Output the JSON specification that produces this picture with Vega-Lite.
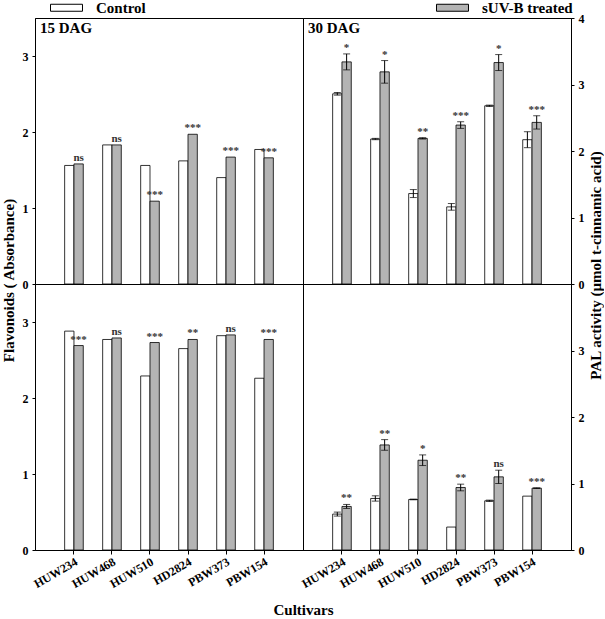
{
  "$schema": "https://vega.github.io/schema/vega-lite/v6.json",
  "padding": {"left": 0, "top": 0, "right": 0, "bottom": 0},
  "datasets": {
    "d": [
      {"panel": "TL", "cultivar": "HUW234", "treatment": "Control", "value": 1.56},
      {"panel": "TL", "cultivar": "HUW234", "treatment": "sUV-B treated", "value": 1.58, "sig": "ns"},
      {"panel": "TL", "cultivar": "HUW468", "treatment": "Control", "value": 1.83},
      {"panel": "TL", "cultivar": "HUW468", "treatment": "sUV-B treated", "value": 1.83, "sig": "ns"},
      {"panel": "TL", "cultivar": "HUW510", "treatment": "Control", "value": 1.56},
      {"panel": "TL", "cultivar": "HUW510", "treatment": "sUV-B treated", "value": 1.09, "sig": "***"},
      {"panel": "TL", "cultivar": "HD2824", "treatment": "Control", "value": 1.62},
      {"panel": "TL", "cultivar": "HD2824", "treatment": "sUV-B treated", "value": 1.97, "sig": "***"},
      {"panel": "TL", "cultivar": "PBW373", "treatment": "Control", "value": 1.40},
      {"panel": "TL", "cultivar": "PBW373", "treatment": "sUV-B treated", "value": 1.67, "sig": "***"},
      {"panel": "TL", "cultivar": "PBW154", "treatment": "Control", "value": 1.77},
      {"panel": "TL", "cultivar": "PBW154", "treatment": "sUV-B treated", "value": 1.66, "sig": "***"},

      {"panel": "TR", "cultivar": "HUW234", "treatment": "Control", "value": 2.86, "lo": 2.84, "hi": 2.88},
      {"panel": "TR", "cultivar": "HUW234", "treatment": "sUV-B treated", "value": 3.34, "lo": 3.22, "hi": 3.46, "sig": "*"},
      {"panel": "TR", "cultivar": "HUW468", "treatment": "Control", "value": 2.18, "lo": 2.17, "hi": 2.19},
      {"panel": "TR", "cultivar": "HUW468", "treatment": "sUV-B treated", "value": 3.19, "lo": 3.02, "hi": 3.36, "sig": "*"},
      {"panel": "TR", "cultivar": "HUW510", "treatment": "Control", "value": 1.36, "lo": 1.30, "hi": 1.42},
      {"panel": "TR", "cultivar": "HUW510", "treatment": "sUV-B treated", "value": 2.19, "lo": 2.18, "hi": 2.20, "sig": "**"},
      {"panel": "TR", "cultivar": "HD2824", "treatment": "Control", "value": 1.16, "lo": 1.11, "hi": 1.21},
      {"panel": "TR", "cultivar": "HD2824", "treatment": "sUV-B treated", "value": 2.39, "lo": 2.34, "hi": 2.44, "sig": "***"},
      {"panel": "TR", "cultivar": "PBW373", "treatment": "Control", "value": 2.68, "lo": 2.67, "hi": 2.69},
      {"panel": "TR", "cultivar": "PBW373", "treatment": "sUV-B treated", "value": 3.33, "lo": 3.21, "hi": 3.45, "sig": "*"},
      {"panel": "TR", "cultivar": "PBW154", "treatment": "Control", "value": 2.17, "lo": 2.05, "hi": 2.29},
      {"panel": "TR", "cultivar": "PBW154", "treatment": "sUV-B treated", "value": 2.43, "lo": 2.33, "hi": 2.53, "sig": "***"},

      {"panel": "BL", "cultivar": "HUW234", "treatment": "Control", "value": 2.88},
      {"panel": "BL", "cultivar": "HUW234", "treatment": "sUV-B treated", "value": 2.69, "sig": "***"},
      {"panel": "BL", "cultivar": "HUW468", "treatment": "Control", "value": 2.77},
      {"panel": "BL", "cultivar": "HUW468", "treatment": "sUV-B treated", "value": 2.79, "sig": "ns"},
      {"panel": "BL", "cultivar": "HUW510", "treatment": "Control", "value": 2.29},
      {"panel": "BL", "cultivar": "HUW510", "treatment": "sUV-B treated", "value": 2.73, "sig": "***"},
      {"panel": "BL", "cultivar": "HD2824", "treatment": "Control", "value": 2.65},
      {"panel": "BL", "cultivar": "HD2824", "treatment": "sUV-B treated", "value": 2.77, "sig": "**"},
      {"panel": "BL", "cultivar": "PBW373", "treatment": "Control", "value": 2.82},
      {"panel": "BL", "cultivar": "PBW373", "treatment": "sUV-B treated", "value": 2.83, "sig": "ns"},
      {"panel": "BL", "cultivar": "PBW154", "treatment": "Control", "value": 2.26},
      {"panel": "BL", "cultivar": "PBW154", "treatment": "sUV-B treated", "value": 2.77, "sig": "***"},

      {"panel": "BR", "cultivar": "HUW234", "treatment": "Control", "value": 0.54, "lo": 0.51, "hi": 0.57},
      {"panel": "BR", "cultivar": "HUW234", "treatment": "sUV-B treated", "value": 0.655, "lo": 0.625, "hi": 0.685, "sig": "**"},
      {"panel": "BR", "cultivar": "HUW468", "treatment": "Control", "value": 0.775, "lo": 0.735, "hi": 0.815},
      {"panel": "BR", "cultivar": "HUW468", "treatment": "sUV-B treated", "value": 1.58, "lo": 1.50, "hi": 1.66, "sig": "**"},
      {"panel": "BR", "cultivar": "HUW510", "treatment": "Control", "value": 0.76, "lo": 0.755, "hi": 0.765},
      {"panel": "BR", "cultivar": "HUW510", "treatment": "sUV-B treated", "value": 1.35, "lo": 1.27, "hi": 1.43, "sig": "*"},
      {"panel": "BR", "cultivar": "HD2824", "treatment": "Control", "value": 0.345},
      {"panel": "BR", "cultivar": "HD2824", "treatment": "sUV-B treated", "value": 0.94, "lo": 0.89, "hi": 0.99, "sig": "**"},
      {"panel": "BR", "cultivar": "PBW373", "treatment": "Control", "value": 0.74, "lo": 0.73, "hi": 0.75},
      {"panel": "BR", "cultivar": "PBW373", "treatment": "sUV-B treated", "value": 1.10, "lo": 1.00, "hi": 1.20, "sig": "ns"},
      {"panel": "BR", "cultivar": "PBW154", "treatment": "Control", "value": 0.81},
      {"panel": "BR", "cultivar": "PBW154", "treatment": "sUV-B treated", "value": 0.93, "lo": 0.925, "hi": 0.935, "sig": "***"}
    ],
    "labels": [
      {"panel": "TL", "label": "15 DAG"},
      {"panel": "TR", "label": "30 DAG"}
    ]
  },
  "data": {"name": "d"},
  "columns": 2,
  "spacing": 0,
  "bounds": "flush",
  "resolve": {"scale": {"y": "independent", "fill": "shared"}, "legend": {"fill": "shared"}},
  "concat": [
    {
      "width": 268, "height": 266,
      "transform": [{"filter": "datum.panel === 'TL'"}],
      "layer": [
        {
          "mark": {"type": "bar", "stroke": "black", "strokeWidth": 0.8},
          "encoding": {
            "x": {"field": "cultivar", "type": "nominal", "scale": {"domain": ["HUW234", "HUW468", "HUW510", "HD2824", "PBW373", "PBW154"], "paddingInner": 0.51, "paddingOuter": 0.78}, "axis": null},
            "xOffset": {"field": "treatment", "type": "nominal", "scale": {"domain": ["Control", "sUV-B treated"], "paddingInner": 0, "paddingOuter": 0}},
            "y": {"field": "value", "type": "quantitative", "scale": {"domain": [0, 3.5], "nice": false}, "axis": {"orient": "left", "values": [0, 1, 2, 3], "format": "d", "title": "Flavonoids ( Absorbance)", "titleY": 262, "titlePadding": 6}},
            "fill": {"field": "treatment", "type": "nominal", "scale": {"domain": ["Control", "sUV-B treated"], "range": ["white", "#b4b4b4"]},
              "legend": {"orient": "none", "legendX": 24, "legendY": -18, "direction": "horizontal", "title": null, "symbolType": "M-4.57,-1H4.57V1H-4.57Z", "symbolSize": 49, "symbolStrokeColor": "black", "symbolStrokeWidth": 1, "labelFont": "Liberation Serif", "labelFontSize": 15, "labelFontWeight": "bold", "labelColor": "black", "labelOffset": 22, "columnPadding": 288}}
          }
        },
        {
          "transform": [{"filter": "datum.sig"}],
          "mark": {"type": "text", "baseline": "bottom", "dy": -1, "fontWeight": "bold", "font": "Liberation Serif", "color": "#333333"},
          "encoding": {
            "x": {"field": "cultivar", "type": "nominal", "axis": null},
            "xOffset": {"field": "treatment", "type": "nominal"},
            "y": {"field": "value", "type": "quantitative"},
            "text": {"field": "sig"},
            "fontSize": {"condition": {"test": "datum.sig === 'ns'", "value": 15}, "value": 16}
          }
        },
        {
          "data": {"name": "labels"},
          "transform": [{"filter": "datum.panel === 'TL'"}],
          "mark": {"type": "text", "align": "left", "baseline": "alphabetic", "fontSize": 15, "fontWeight": "bold", "font": "Liberation Serif", "dx": -34, "color": "black"},
          "encoding": {
            "x": {"datum": "HUW234", "type": "nominal", "axis": null},
            "y": {"datum": 3.3, "type": "quantitative"},
            "text": {"field": "label"}
          }
        }
      ]
    },
    {
      "width": 268, "height": 266,
      "transform": [{"filter": "datum.panel === 'TR'"}],
      "layer": [
        {
          "mark": {"type": "bar", "stroke": "black", "strokeWidth": 0.8},
          "encoding": {
            "x": {"field": "cultivar", "type": "nominal", "scale": {"domain": ["HUW234", "HUW468", "HUW510", "HD2824", "PBW373", "PBW154"], "paddingInner": 0.51, "paddingOuter": 0.78}, "axis": null},
            "xOffset": {"field": "treatment", "type": "nominal", "scale": {"domain": ["Control", "sUV-B treated"], "paddingInner": 0, "paddingOuter": 0}},
            "y": {"field": "value", "type": "quantitative", "scale": {"domain": [0, 4], "nice": false}, "axis": {"orient": "right", "values": [0, 1, 2, 3, 4], "format": "d", "title": "PAL activity (µmol t-cinnamic acid)", "titleY": 247, "titleAngle": 270, "titleBaseline": "top", "titlePadding": 4}},
            "fill": {"field": "treatment", "type": "nominal", "scale": {"domain": ["Control", "sUV-B treated"], "range": ["white", "#b4b4b4"]},
              "legend": {"orient": "none", "legendX": 24, "legendY": -18, "direction": "horizontal", "title": null, "symbolType": "M-4.57,-1H4.57V1H-4.57Z", "symbolSize": 49, "symbolStrokeColor": "black", "symbolStrokeWidth": 1, "labelFont": "Liberation Serif", "labelFontSize": 15, "labelFontWeight": "bold", "labelColor": "black", "labelOffset": 22, "columnPadding": 288}}
          }
        },
        {
          "mark": {"type": "rule", "color": "black", "strokeWidth": 1},
          "encoding": {
            "x": {"field": "cultivar", "type": "nominal", "axis": null},
            "xOffset": {"field": "treatment", "type": "nominal"},
            "y": {"field": "lo", "type": "quantitative"},
            "y2": {"field": "hi"}
          }
        },
        {
          "mark": {"type": "tick", "color": "black", "thickness": 1, "size": 7},
          "encoding": {
            "x": {"field": "cultivar", "type": "nominal", "axis": null},
            "xOffset": {"field": "treatment", "type": "nominal"},
            "y": {"field": "lo", "type": "quantitative"}
          }
        },
        {
          "mark": {"type": "tick", "color": "black", "thickness": 1, "size": 7},
          "encoding": {
            "x": {"field": "cultivar", "type": "nominal", "axis": null},
            "xOffset": {"field": "treatment", "type": "nominal"},
            "y": {"field": "hi", "type": "quantitative"}
          }
        },
        {
          "transform": [{"filter": "datum.sig"}],
          "mark": {"type": "text", "baseline": "bottom", "dy": -1, "fontWeight": "bold", "font": "Liberation Serif", "color": "#333333"},
          "encoding": {
            "x": {"field": "cultivar", "type": "nominal", "axis": null},
            "xOffset": {"field": "treatment", "type": "nominal"},
            "y": {"field": "hi", "type": "quantitative"},
            "text": {"field": "sig"},
            "fontSize": {"condition": {"test": "datum.sig === 'ns'", "value": 15}, "value": 16}
          }
        },
        {
          "data": {"name": "labels"},
          "transform": [{"filter": "datum.panel === 'TR'"}],
          "mark": {"type": "text", "align": "left", "baseline": "alphabetic", "fontSize": 15, "fontWeight": "bold", "font": "Liberation Serif", "dx": -34, "color": "black"},
          "encoding": {
            "x": {"datum": "HUW234", "type": "nominal", "axis": null},
            "y": {"datum": 3.775, "type": "quantitative"},
            "text": {"field": "label"}
          }
        }
      ]
    },
    {
      "width": 268, "height": 266,
      "transform": [{"filter": "datum.panel === 'BL'"}],
      "layer": [
        {
          "mark": {"type": "bar", "stroke": "black", "strokeWidth": 0.8},
          "encoding": {
            "x": {"field": "cultivar", "type": "nominal", "scale": {"domain": ["HUW234", "HUW468", "HUW510", "HD2824", "PBW373", "PBW154"], "paddingInner": 0.51, "paddingOuter": 0.78}, "axis": {"orient": "bottom", "labelAngle": -30, "title": "Cultivars", "titleX": 268, "titleY": 52, "titleBaseline": "top", "tickSize": 4, "labelPadding": 2}},
            "xOffset": {"field": "treatment", "type": "nominal", "scale": {"domain": ["Control", "sUV-B treated"], "paddingInner": 0, "paddingOuter": 0}},
            "y": {"field": "value", "type": "quantitative", "scale": {"domain": [0, 3.5], "nice": false}, "axis": {"orient": "left", "values": [0, 1, 2, 3], "format": "d", "title": null}},
            "fill": {"field": "treatment", "type": "nominal", "scale": {"domain": ["Control", "sUV-B treated"], "range": ["white", "#b4b4b4"]},
              "legend": {"orient": "none", "legendX": 24, "legendY": -18, "direction": "horizontal", "title": null, "symbolType": "M-4.57,-1H4.57V1H-4.57Z", "symbolSize": 49, "symbolStrokeColor": "black", "symbolStrokeWidth": 1, "labelFont": "Liberation Serif", "labelFontSize": 15, "labelFontWeight": "bold", "labelColor": "black", "labelOffset": 22, "columnPadding": 288}}
          }
        },
        {
          "transform": [{"filter": "datum.sig"}],
          "mark": {"type": "text", "baseline": "bottom", "dy": -1, "fontWeight": "bold", "font": "Liberation Serif", "color": "#333333"},
          "encoding": {
            "x": {"field": "cultivar", "type": "nominal"},
            "xOffset": {"field": "treatment", "type": "nominal"},
            "y": {"field": "value", "type": "quantitative"},
            "text": {"field": "sig"},
            "fontSize": {"condition": {"test": "datum.sig === 'ns'", "value": 15}, "value": 16}
          }
        }
      ]
    },
    {
      "width": 268, "height": 266,
      "transform": [{"filter": "datum.panel === 'BR'"}],
      "layer": [
        {
          "mark": {"type": "bar", "stroke": "black", "strokeWidth": 0.8},
          "encoding": {
            "x": {"field": "cultivar", "type": "nominal", "scale": {"domain": ["HUW234", "HUW468", "HUW510", "HD2824", "PBW373", "PBW154"], "paddingInner": 0.51, "paddingOuter": 0.78}, "axis": {"orient": "bottom", "labelAngle": -30, "title": null, "tickSize": 4, "labelPadding": 2}},
            "xOffset": {"field": "treatment", "type": "nominal", "scale": {"domain": ["Control", "sUV-B treated"], "paddingInner": 0, "paddingOuter": 0}},
            "y": {"field": "value", "type": "quantitative", "scale": {"domain": [0, 4], "nice": false}, "axis": {"orient": "right", "values": [0, 1, 2, 3], "format": "d", "title": null}},
            "fill": {"field": "treatment", "type": "nominal", "scale": {"domain": ["Control", "sUV-B treated"], "range": ["white", "#b4b4b4"]},
              "legend": {"orient": "none", "legendX": 24, "legendY": -18, "direction": "horizontal", "title": null, "symbolType": "M-4.57,-1H4.57V1H-4.57Z", "symbolSize": 49, "symbolStrokeColor": "black", "symbolStrokeWidth": 1, "labelFont": "Liberation Serif", "labelFontSize": 15, "labelFontWeight": "bold", "labelColor": "black", "labelOffset": 22, "columnPadding": 288}}
          }
        },
        {
          "mark": {"type": "rule", "color": "black", "strokeWidth": 1},
          "encoding": {
            "x": {"field": "cultivar", "type": "nominal"},
            "xOffset": {"field": "treatment", "type": "nominal"},
            "y": {"field": "lo", "type": "quantitative"},
            "y2": {"field": "hi"}
          }
        },
        {
          "mark": {"type": "tick", "color": "black", "thickness": 1, "size": 7},
          "encoding": {
            "x": {"field": "cultivar", "type": "nominal"},
            "xOffset": {"field": "treatment", "type": "nominal"},
            "y": {"field": "lo", "type": "quantitative"}
          }
        },
        {
          "mark": {"type": "tick", "color": "black", "thickness": 1, "size": 7},
          "encoding": {
            "x": {"field": "cultivar", "type": "nominal"},
            "xOffset": {"field": "treatment", "type": "nominal"},
            "y": {"field": "hi", "type": "quantitative"}
          }
        },
        {
          "transform": [{"filter": "datum.sig"}],
          "mark": {"type": "text", "baseline": "bottom", "dy": -1, "fontWeight": "bold", "font": "Liberation Serif", "color": "#333333"},
          "encoding": {
            "x": {"field": "cultivar", "type": "nominal"},
            "xOffset": {"field": "treatment", "type": "nominal"},
            "y": {"field": "hi", "type": "quantitative"},
            "text": {"field": "sig"},
            "fontSize": {"condition": {"test": "datum.sig === 'ns'", "value": 15}, "value": 16}
          }
        }
      ]
    }
  ],
  "config": {
    "view": {"stroke": "black", "strokeWidth": 1},
    "axis": {"domainColor": "black", "tickColor": "black", "labelColor": "black", "titleColor": "black", "labelFont": "Liberation Serif", "titleFont": "Liberation Serif", "labelFontWeight": "bold", "titleFontWeight": "bold", "labelFontSize": 12, "titleFontSize": 15, "grid": false, "tickSize": 3, "labelPadding": 4, "domainWidth": 1, "tickWidth": 1}
  }
}
